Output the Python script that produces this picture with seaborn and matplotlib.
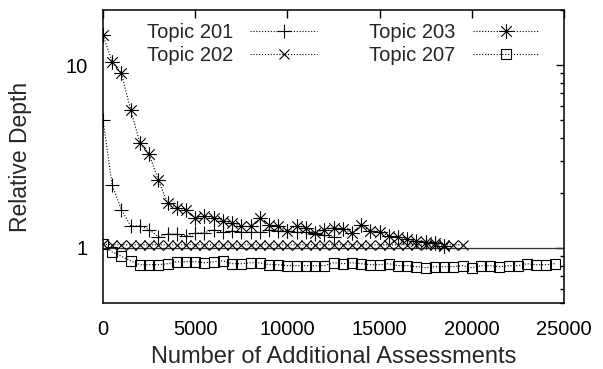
import numpy as np
import pandas as pd
import matplotlib
matplotlib.use("Agg")
import matplotlib.pyplot as plt
from matplotlib.path import Path
from matplotlib.ticker import FixedLocator, NullFormatter
import seaborn as sns

# Relative depth per topic, sampled every 500 additional assessments
step = 500
depth_201 = [5.0, 2.2, 1.62, 1.32, 1.32, 1.26, 1.15, 1.19, 1.19, 1.16,
             1.21, 1.21, 1.26, 1.22, 1.24, 1.22, 1.22, 1.22, 1.26, 1.24,
             1.24, 1.22, 1.22, 1.19, 1.17, 1.15]
depth_202 = [1.05, 1.04, 1.04, 1.04, 1.04, 1.04, 1.04, 1.04, 1.04, 1.04,
             1.04, 1.04, 1.04, 1.04, 1.04, 1.04, 1.04, 1.04, 1.04, 1.04,
             1.04, 1.04, 1.04, 1.04, 1.04, 1.04, 1.04, 1.04, 1.04, 1.04,
             1.04, 1.04, 1.04, 1.04, 1.04, 1.04, 1.04, 1.04, 1.04, 1.04]
depth_203 = [14.6, 10.4, 9.0, 5.7, 3.76, 3.26, 2.35, 1.77, 1.66, 1.62,
             1.45, 1.50, 1.46, 1.41, 1.37, 1.31, 1.31, 1.45, 1.34, 1.31,
             1.24, 1.32, 1.29, 1.21, 1.26, 1.29, 1.27, 1.21, 1.34, 1.24,
             1.23, 1.16, 1.15, 1.12, 1.09, 1.08, 1.07, 1.03]
depth_207 = [1.05, 0.95, 0.90, 0.85, 0.81, 0.81, 0.81, 0.82, 0.84, 0.84,
             0.84, 0.83, 0.84, 0.85, 0.82, 0.82, 0.83, 0.83, 0.81, 0.81,
             0.80, 0.80, 0.80, 0.80, 0.80, 0.83, 0.82, 0.83, 0.82, 0.81,
             0.81, 0.82, 0.80, 0.80, 0.79, 0.78, 0.79, 0.79, 0.79, 0.80,
             0.78, 0.80, 0.80, 0.79, 0.80, 0.80, 0.82, 0.81, 0.81, 0.82]
topics = ["Topic 201", "Topic 202", "Topic 203", "Topic 207"]
x_ticks = [0, 5000, 10000, 15000, 20000, 25000]
y_ticks = [1, 10]
y_tick_labels = ["1", "10"]

series = dict(zip(topics, [depth_201, depth_202, depth_203, depth_207]))
frames = []
for name, vals in series.items():
    frames.append(pd.DataFrame({
        "assessments": np.arange(len(vals)) * step,
        "depth": vals,
        "topic": name,
    }))
df = pd.concat(frames, ignore_index=True)

sns.set_theme(style="white")
plt.rcParams["font.family"] = ["Liberation Sans", "DejaVu Sans"]
plt.rcParams["font.size"] = 14.5

# asterisk marker: a plus overlaid with a cross
a = 0.72
star = Path(
    [(-1, 0), (1, 0), (0, -1), (0, 1), (-a, -a), (a, a), (-a, a), (a, -a)],
    [Path.MOVETO, Path.LINETO] * 4,
)
markers = {"Topic 201": ("+", 9.5), "Topic 202": ("x", 7.5),
           "Topic 203": (star, 10.5), "Topic 207": ("s", 7.5)}

fig = plt.figure(figsize=(6.03, 3.69), dpi=100)
ax = fig.add_axes([103 / 603, 1 - 303 / 369, 461 / 603, 293 / 369])

ax.axhline(1.0, color="#333333", lw=0.9, zorder=1)

for name in topics:
    sub = df[df["topic"] == name]
    m, ms = markers[name]
    sns.lineplot(data=sub, x="assessments", y="depth", ax=ax,
                 color="black", linestyle=(0, (1, 1.6)), lw=0.8,
                 marker=m, markersize=ms, markerfacecolor="none",
                 markeredgecolor="black", markeredgewidth=0.8,
                 label=name, zorder=3)

ax.set_yscale("log")
ax.set_xlim(0, 25000)
ax.set_ylim(0.5, 20)
ax.xaxis.set_major_locator(FixedLocator(x_ticks))
ax.set_xticklabels([str(t) for t in x_ticks])
ax.yaxis.set_major_locator(FixedLocator(y_ticks))
ax.set_yticklabels(y_tick_labels)
minor = [0.5, 0.6, 0.7, 0.8, 0.9] + list(range(2, 10)) + [20]
ax.yaxis.set_minor_locator(FixedLocator(minor))
ax.yaxis.set_minor_formatter(NullFormatter())

ax.tick_params(which="both", direction="in", top=True, right=True,
               colors="black", labelsize=14.5)
ax.tick_params(which="major", length=6, width=1.0)
ax.tick_params(axis="x", which="major", pad=12)
ax.tick_params(axis="y", which="major", pad=11)
ax.tick_params(which="minor", length=3.2, width=1.0)
for s in ax.spines.values():
    s.set_color("black")
    s.set_linewidth(1.1)

ax.set_xlabel("Number of Additional Assessments", fontsize=17, labelpad=5)
ax.set_ylabel("Relative Depth", fontsize=16.5, labelpad=24)

leg = ax.legend(loc="upper left", bbox_to_anchor=(137 / 603, 1 - 13 / 369),
                bbox_transform=fig.transFigure, ncol=2, frameon=False,
                markerfirst=False, borderpad=0, handlelength=3.3,
                handletextpad=0.85, columnspacing=2.6, labelspacing=0.2,
                fontsize=14.5)

fig.savefig("out.png", dpi=100)
